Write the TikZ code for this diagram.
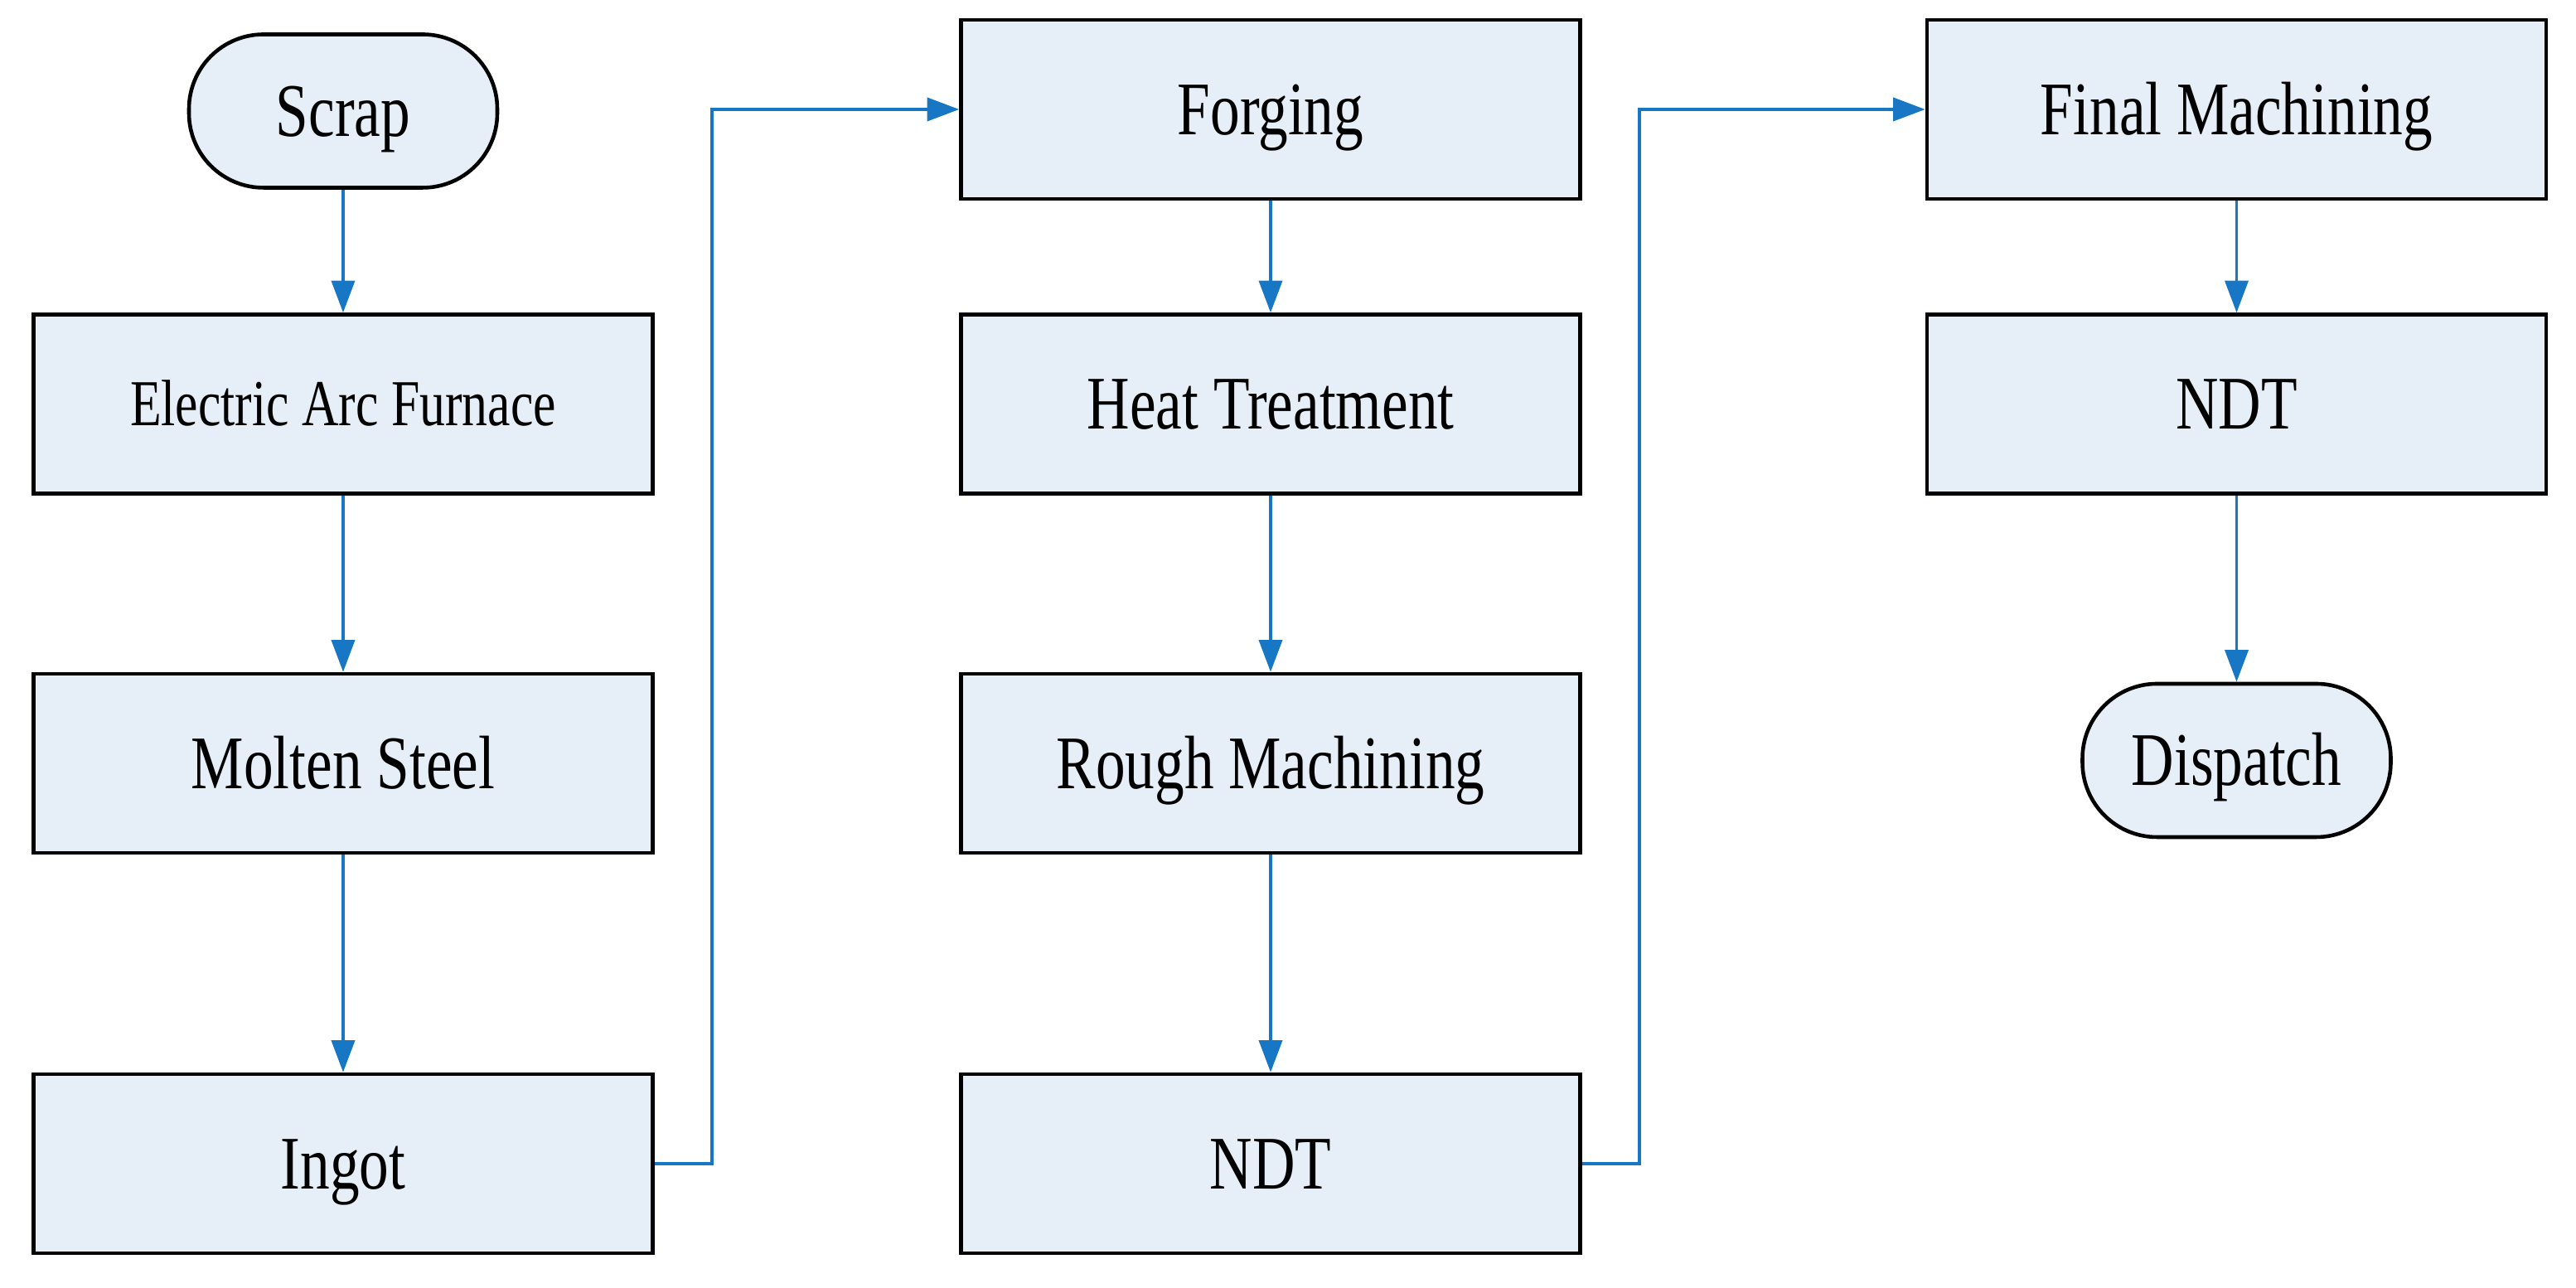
\documentclass[tikz,border=0pt]{standalone}
\usepackage{fontspec}
\setmainfont{Liberation Serif}[FakeStretch=0.78]
\usetikzlibrary{arrows.meta}
\definecolor{boxfill}{HTML}{E6EEF7}
\definecolor{flowblue}{HTML}{1877C5}
\begin{document}
\begin{tikzpicture}[
  stepbox/.style={draw, line width=1.3pt, fill=boxfill, minimum width=7.47cm, minimum height=2.16cm, inner sep=0pt, text height=17.2pt, text depth=0pt, font=\fontsize{26}{30}\selectfont},
  endbox/.style={stepbox, rounded corners=0.9cm, minimum width=3.72cm, minimum height=1.85cm},
  flow/.style={draw=flowblue, line width=1pt, -{Triangle[width=8pt,length=11pt]}}
]
\useasboundingbox (0,0) rectangle (31.08,15.54);
\node[endbox] (pid0) at (4.14,14.20){Scrap};
\node[stepbox, font=\fontsize{22.5}{27}\selectfont, text height=14.9pt] (pid1) at (4.14,10.665){Electric Arc Furnace};
\node[stepbox] (pid2) at (4.14,6.33){Molten Steel};
\node[stepbox] (pid3) at (4.14,1.50){Ingot};
\draw[flow](pid0) -- (pid1);
\draw[flow](pid1) -- (pid2);
\draw[flow](pid2) -- (pid3);
\node[stepbox] (pid4) at (15.33,14.22){Forging};
\node[stepbox] (pid5) at (15.33,10.665){Heat Treatment};
\node[stepbox] (pid6) at (15.33,6.33){Rough Machining};
\node[stepbox] (pid7) at (15.33,1.50){NDT};
\draw[flow](pid4) -- (pid5);
\draw[flow](pid5) -- (pid6);
\draw[flow](pid6) -- (pid7);
\node[stepbox] (pid8) at (26.985,14.22){Final Machining};
\node[stepbox] (pid9) at (26.985,10.665){NDT};
\node[endbox] (pid10) at (26.985,6.365){Dispatch};
\draw[flow](pid8) -- (pid9);
\draw[flow](pid9) -- (pid10);
\draw[flow](pid3.east) -- ++(0.69,0) |- (pid4.west);
\draw[flow](pid7.east) -- ++(0.69,0) |- (pid8.west);
\end{tikzpicture}
\end{document}
